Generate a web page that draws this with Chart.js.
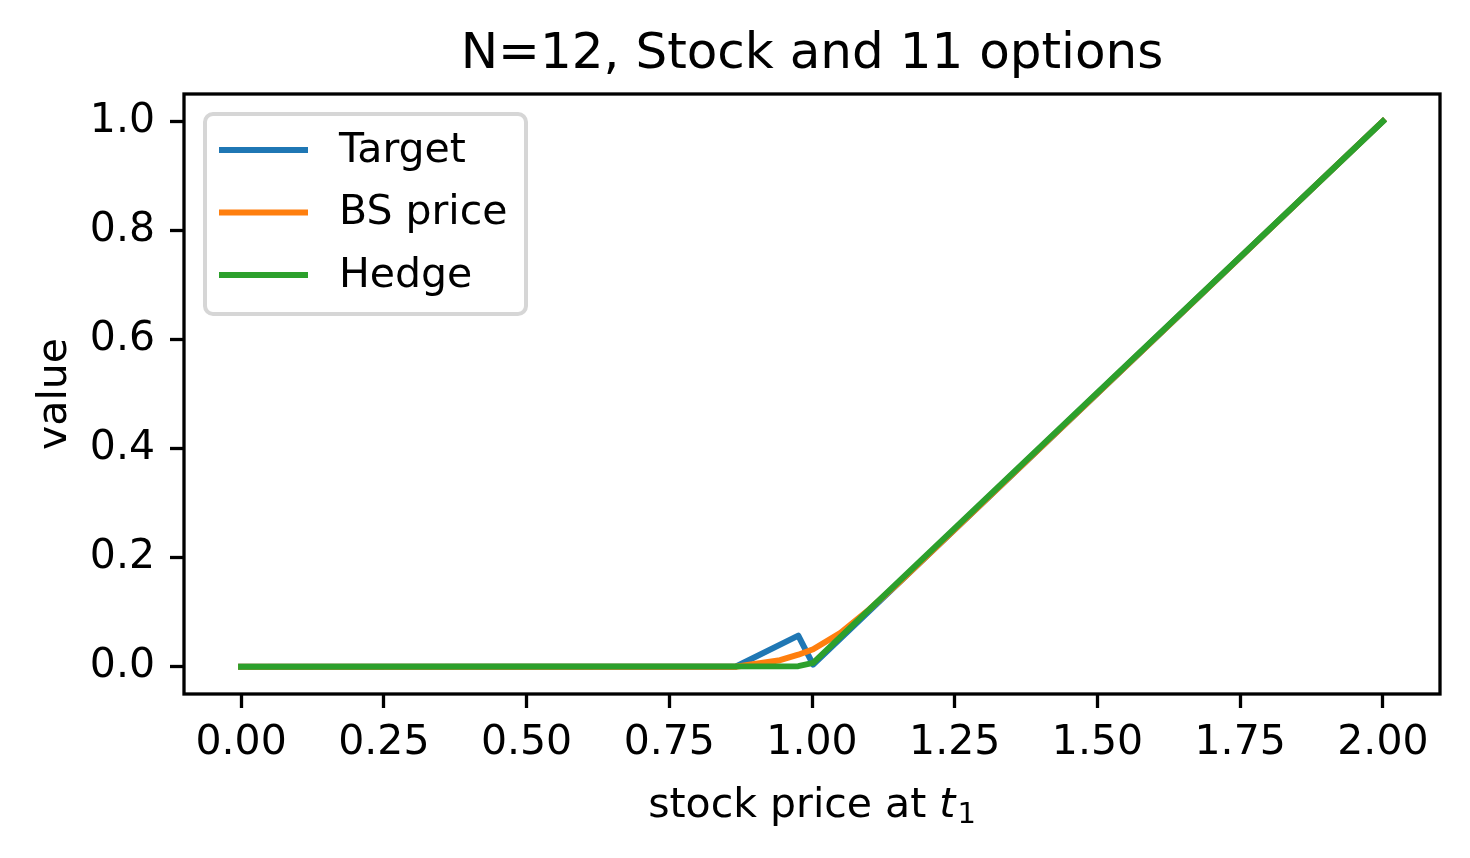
<!DOCTYPE html>
<html>
<head>
<meta charset="utf-8">
<title>N=12, Stock and 11 options</title>
<script src="https://cdn.jsdelivr.net/npm/chart.js@4/dist/chart.umd.min.js"></script>
<style>
    html, body { margin: 0; padding: 0; background: #fff; }
    canvas { display: block; }
</style>
</head>
<body>
<canvas id="hedgeChart" width="1470" height="858"></canvas>
<script>
// --- Data ---

// Target payoff
const targetX = [0.0, 0.866, 0.976, 1.002, 2.0];
const targetY = [0.0, 0.0, 0.057, 0.004, 1.0];

// BS price
const bsX = [0.0, 0.866, 0.944, 0.976, 1.002, 1.05, 1.1, 1.15, 2.0];
const bsY = [0.0, 0.0, 0.012, 0.022, 0.032, 0.062, 0.105, 0.152, 1.0];

// Hedge
const hedgeX = [0.0, 0.976, 1.002, 2.0];
const hedgeY = [0.0, 0.001, 0.007, 1.0];

// Tick labels
const xTicks = [0, 0.25, 0.5, 0.75, 1.0, 1.25, 1.5, 1.75, 2.0];
const yTicks = [0, 0.2, 0.4, 0.6, 0.8, 1.0];

const seriesLabels = ['Target', 'BS price', 'Hedge'];
const seriesColors = ['#1f77b4', '#ff7f0e', '#2ca02c'];

// --- Helpers ---
const FONT = "'DejaVu Sans', sans-serif";
const toPoints = (xs, ys) => xs.map((x, i) => ({ x: x, y: ys[i] }));

const makeDataset = (idx, xs, ys) => ({
    label: seriesLabels[idx],
    data: toPoints(xs, ys),
    borderColor: seriesColors[idx],
    backgroundColor: seriesColors[idx],
    borderWidth: 6,
    borderJoinStyle: 'round',
    borderCapStyle: 'square',
    pointRadius: 0,
    tension: 0,
    fill: false,
    order: 2 - idx, // later series on top, like matplotlib
});

// Titles, frame and legend drawn on top of the chart
const decorations = {
    id: 'decorations',
    afterDatasetsDraw(chart) {
        const { ctx, chartArea } = chart;
        const { left, top, right, bottom } = chartArea;
        ctx.save();

        // axes frame
        ctx.strokeStyle = '#000';
        ctx.lineWidth = 3.3;
        ctx.strokeRect(left, top, right - left, bottom - top);

        // legend box
        const lx = 205, ly = 114, lw = 321, lh = 200, r = 8;
        ctx.beginPath();
        ctx.roundRect(lx, ly, lw, lh, r);
        ctx.fillStyle = 'rgba(255,255,255,0.8)';
        ctx.fill();
        ctx.lineWidth = 4;
        ctx.strokeStyle = '#d6d6d6';
        ctx.stroke();

        ctx.font = '41px ' + FONT;
        ctx.textBaseline = 'middle';
        ctx.textAlign = 'left';
        seriesLabels.forEach((label, i) => {
            const y = 150 + i * 62.5;
            ctx.beginPath();
            ctx.moveTo(219, y);
            ctx.lineTo(308, y);
            ctx.strokeStyle = seriesColors[i];
            ctx.lineWidth = 6;
            ctx.lineCap = 'butt';
            ctx.stroke();
            ctx.fillStyle = '#000';
            ctx.fillText(label, 339, y + 1);
        });
        ctx.restore();
    },
    afterDraw(chart) {
        const { ctx, chartArea } = chart;
        const cx = (chartArea.left + chartArea.right) / 2;
        ctx.save();
        ctx.fillStyle = '#000';
        ctx.textBaseline = 'alphabetic';

        // main title
        ctx.font = '50px ' + FONT;
        ctx.textAlign = 'center';
        ctx.fillText('N=12, Stock and 11 options', cx, 68);

        // x axis title: "stock price at t_1"
        const part1 = 'stock price at ';
        const normalFont = '41px ' + FONT;
        const italicFont = 'italic 41px ' + FONT;
        const subFont = '29px ' + FONT;
        ctx.font = normalFont;
        const w1 = ctx.measureText(part1).width;
        ctx.font = italicFont;
        const w2 = ctx.measureText('t').width;
        ctx.font = subFont;
        const w3 = ctx.measureText('1').width;
        let x = cx - (w1 + w2 + w3 + 2) / 2;
        const base = 817;
        ctx.textAlign = 'left';
        ctx.font = normalFont;
        ctx.fillText(part1, x, base);
        x += w1;
        ctx.font = italicFont;
        ctx.fillText('t', x, base);
        x += w2 + 2;
        ctx.font = subFont;
        ctx.fillText('1', x, base + 6);

        // y axis title
        ctx.translate(66, (chartArea.top + chartArea.bottom) / 2);
        ctx.rotate(-Math.PI / 2);
        ctx.font = normalFont;
        ctx.textAlign = 'center';
        ctx.fillText('value', 0, 0);
        ctx.restore();
    }
};

// --- Chart ---
const ctx = document.getElementById('hedgeChart').getContext('2d');
new Chart(ctx, {
    type: 'line',
    data: {
        datasets: [
            makeDataset(0, targetX, targetY),
            makeDataset(1, bsX, bsY),
            makeDataset(2, hedgeX, hedgeY),
        ]
    },
    options: {
        responsive: false,
        devicePixelRatio: 1,
        animation: false,
        layout: {
            padding: { top: 94, right: 30, left: 0, bottom: 0 }
        },
        plugins: {
            legend: { display: false },
            title: { display: false },
            tooltip: { enabled: false }
        },
        scales: {
            x: {
                type: 'linear',
                min: -0.1,
                max: 2.1,
                afterFit: (scale) => { scale.height = 164; },
                afterBuildTicks: (scale) => { scale.ticks = xTicks.map(v => ({ value: v })); },
                grid: {
                    drawOnChartArea: false,
                    drawTicks: true,
                    tickLength: 14,
                    tickWidth: 3.3,
                    tickColor: '#000'
                },
                border: { display: false },
                ticks: {
                    color: '#000',
                    padding: 11,
                    maxRotation: 0,
                    font: { family: FONT, size: 41 },
                    callback: (v) => Number(v).toFixed(2)
                }
            },
            y: {
                type: 'linear',
                min: -0.05,
                max: 1.05,
                afterFit: (scale) => { scale.width = 184; },
                afterBuildTicks: (scale) => { scale.ticks = yTicks.map(v => ({ value: v })); },
                grid: {
                    drawOnChartArea: false,
                    drawTicks: true,
                    tickLength: 14,
                    tickWidth: 3.3,
                    tickColor: '#000'
                },
                border: { display: false },
                ticks: {
                    color: '#000',
                    padding: 15,
                    font: { family: FONT, size: 41 },
                    callback: (v) => Number(v).toFixed(1)
                }
            }
        }
    },
    plugins: [decorations]
});
</script>
</body>
</html>
